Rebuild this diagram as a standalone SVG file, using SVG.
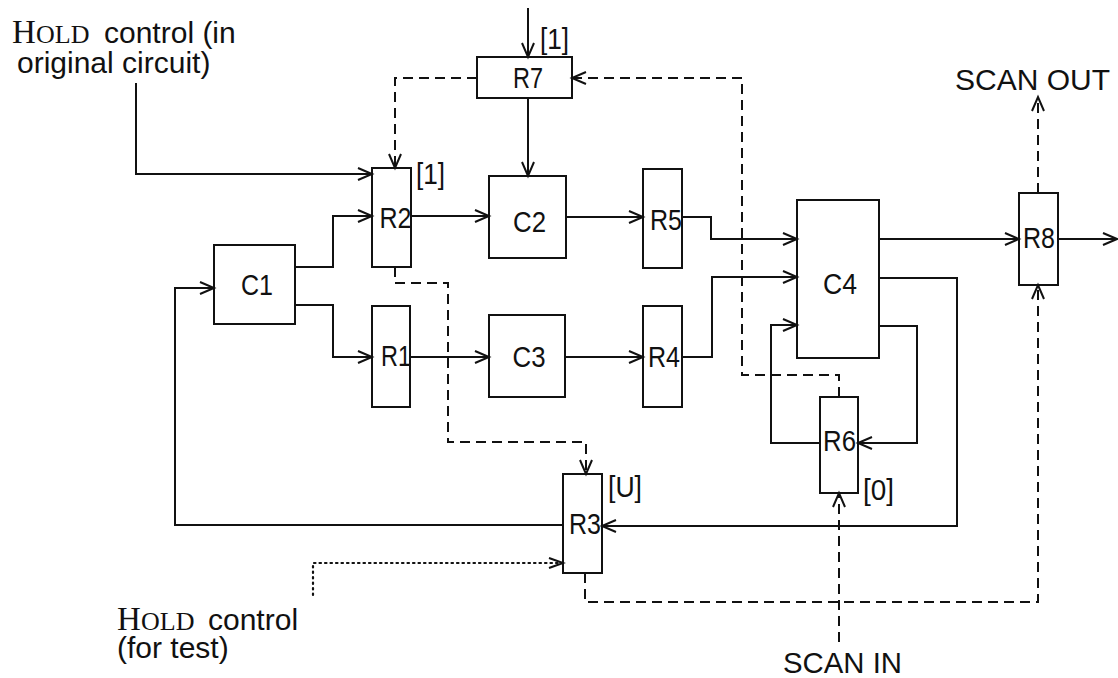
<svg xmlns="http://www.w3.org/2000/svg" width="1118" height="678" viewBox="0 0 1118 678">
<style>
.box{fill:none;stroke:#111;stroke-width:2}
.ln{fill:none;stroke:#111;stroke-width:2}
.dash{fill:none;stroke:#111;stroke-width:2;stroke-dasharray:10 6}
.dot{fill:none;stroke:#111;stroke-width:2.2;stroke-dasharray:1.5 4;stroke-linecap:round}
.lbl{font-family:"Liberation Sans",Arial,sans-serif;font-size:29px;fill:#111;text-anchor:middle}
.brk{font-family:"Liberation Sans",Arial,sans-serif;font-size:29px;fill:#111}
.sans{font-family:"Liberation Sans",Arial,sans-serif;font-size:30px;fill:#111}
.capH{font-family:"Liberation Serif","Times New Roman",serif;font-size:33px;fill:#111}
.capS{font-family:"Liberation Serif","Times New Roman",serif;font-size:26px;fill:#111}
</style>
<defs>
<marker id="ah" markerUnits="userSpaceOnUse" markerWidth="18" markerHeight="16" refX="15" refY="7" orient="auto">
<path d="M1,1 L15,7 L1,13" fill="none" stroke="#111" stroke-width="2"/>
</marker>
</defs>

<g id="connectors">
<path class="ln" d="M528,8 V57" marker-end="url(#ah)"/>
<path class="ln" d="M528,98 V176" marker-end="url(#ah)"/>
<path class="ln" d="M136,83 V174 H372" marker-end="url(#ah)"/>
<path class="ln" d="M295,267 H333 V216 H372" marker-end="url(#ah)"/>
<path class="ln" d="M295,305 H333 V357 H372" marker-end="url(#ah)"/>
<path class="ln" d="M411,216 H489" marker-end="url(#ah)"/>
<path class="ln" d="M410,357 H489" marker-end="url(#ah)"/>
<path class="ln" d="M566,217 H643" marker-end="url(#ah)"/>
<path class="ln" d="M565,357 H643" marker-end="url(#ah)"/>
<path class="ln" d="M682,217 H711 V239 H797" marker-end="url(#ah)"/>
<path class="ln" d="M682,357 H712 V277 H797" marker-end="url(#ah)"/>
<path class="ln" d="M820,443 H771 V325 H797" marker-end="url(#ah)"/>
<path class="ln" d="M879,326 H917 V443 H858" marker-end="url(#ah)"/>
<path class="ln" d="M879,278 H957 V526 H602" marker-end="url(#ah)"/>
<path class="ln" d="M879,239 H1019" marker-end="url(#ah)"/>
<path class="ln" d="M1058,239 H1117" marker-end="url(#ah)"/>
<path class="ln" d="M563,525 H175 V288 H214" marker-end="url(#ah)"/>
<path class="dot" d="M313,595 V563 H560"/>
<path class="ln" d="M549,558 L563,563 L549,568"/>
<path class="dash" d="M839,642 V493" marker-end="url(#ah)"/>
<path class="dash" d="M839,397 V375 H742 V78 H572" marker-end="url(#ah)"/>
<path class="dash" d="M477,78 H395 V168" marker-end="url(#ah)"/>
<path class="dash" d="M395,267 V283 H448 V442 H586 V474" marker-end="url(#ah)"/>
<path class="dash" d="M585,573 V602 H1038 V285" marker-end="url(#ah)"/>
<path class="dash" d="M1038,193 V97" marker-end="url(#ah)"/>
</g>

<g id="C1"><rect class="box" x="214" y="245" width="81" height="79"/><text class="lbl" x="257" y="295" textLength="32" lengthAdjust="spacingAndGlyphs">C1</text></g>
<g id="R2"><rect class="box" x="372" y="168" width="39" height="99"/><text class="lbl" x="395.5" y="228" textLength="32" lengthAdjust="spacingAndGlyphs">R2</text>
<text class="brk" x="416" y="184" textLength="29" lengthAdjust="spacingAndGlyphs">[1]</text></g>
<g id="R1"><rect class="box" x="372" y="306" width="38" height="101"/><text class="lbl" x="396" y="366" textLength="30" lengthAdjust="spacingAndGlyphs">R1</text></g>
<g id="C2"><rect class="box" x="489" y="176" width="77" height="82"/><text class="lbl" x="529.5" y="232" textLength="33" lengthAdjust="spacingAndGlyphs">C2</text></g>
<g id="C3"><rect class="box" x="489" y="315" width="76" height="82"/><text class="lbl" x="529" y="367" textLength="33" lengthAdjust="spacingAndGlyphs">C3</text></g>
<g id="R5"><rect class="box" x="643" y="169" width="39" height="99"/><text class="lbl" x="666" y="230" textLength="32" lengthAdjust="spacingAndGlyphs">R5</text></g>
<g id="R4"><rect class="box" x="643" y="306" width="39" height="101"/><text class="lbl" x="664" y="367" textLength="32" lengthAdjust="spacingAndGlyphs">R4</text></g>
<g id="R7"><rect class="box" x="477" y="57" width="95" height="41"/><text class="lbl" x="528" y="88" textLength="30" lengthAdjust="spacingAndGlyphs">R7</text>
<text class="brk" x="540" y="49" textLength="29" lengthAdjust="spacingAndGlyphs">[1]</text></g>
<g id="C4"><rect class="box" x="797" y="200" width="82" height="158"/><text class="lbl" x="840" y="294" textLength="34" lengthAdjust="spacingAndGlyphs">C4</text></g>
<g id="R8"><rect class="box" x="1019" y="193" width="39" height="92"/><text class="lbl" x="1039" y="248" textLength="32" lengthAdjust="spacingAndGlyphs">R8</text></g>
<g id="R6"><rect class="box" x="820" y="397" width="38" height="96"/><text class="lbl" x="839.5" y="451" textLength="33" lengthAdjust="spacingAndGlyphs">R6</text>
<text class="brk" x="863" y="500" textLength="31" lengthAdjust="spacingAndGlyphs">[0]</text></g>
<g id="R3"><rect class="box" x="563" y="474" width="39" height="99"/><text class="lbl" x="585" y="534" textLength="32" lengthAdjust="spacingAndGlyphs">R3</text>
<text class="brk" x="608" y="497" textLength="34" lengthAdjust="spacingAndGlyphs">[U]</text></g>

<g id="hold-original">
<text class="capH" x="12" y="43">H</text>
<text class="capS" x="36" y="43">OLD</text>
<text class="sans" x="104" y="43">control (in</text>
<text class="sans" x="17" y="73">original circuit)</text>
</g>
<g id="hold-test">
<text class="capH" x="117" y="630">H</text>
<text class="capS" x="141" y="630">OLD</text>
<text class="sans" x="208" y="630">control</text>
<text class="sans" x="117" y="658">(for test)</text>
</g>
<g id="scan-out"><text class="sans" x="955" y="90" font-size="29.5" textLength="155" lengthAdjust="spacingAndGlyphs">SCAN OUT</text></g>
<g id="scan-in"><text class="sans" x="783" y="673" font-size="29.5" textLength="119" lengthAdjust="spacingAndGlyphs">SCAN IN</text></g>
</svg>
